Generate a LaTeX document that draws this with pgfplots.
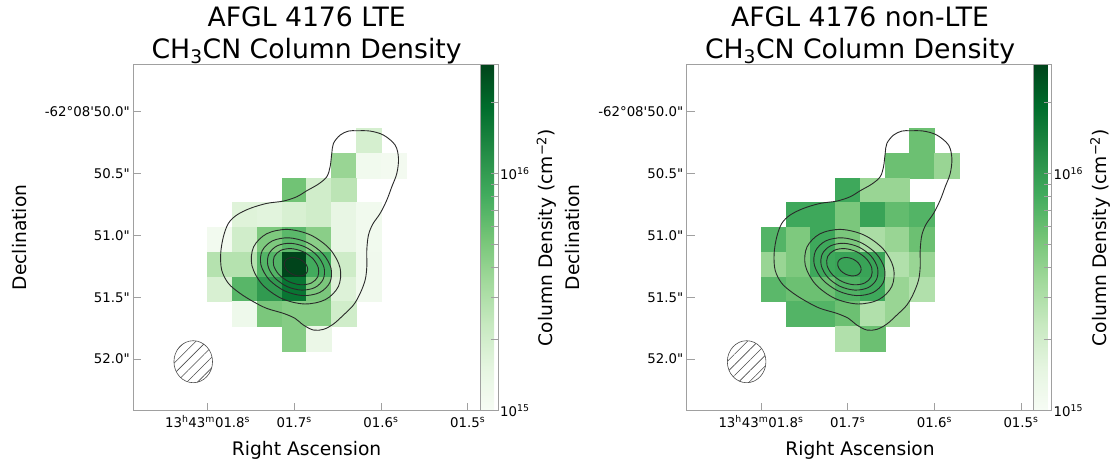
\documentclass[border=0pt]{standalone}
\usepackage{fontspec}
\setmainfont{DejaVu Sans}[Ligatures=TeXOff]
\usepackage{pgfplots}
\pgfplotsset{compat=1.18}
\usepackage{pgfplotstable}
\usetikzlibrary{patterns.meta}

\definecolor{framegray}{HTML}{A0A0A0}
\definecolor{contourgray}{HTML}{2A2A2A}

% matplotlib "Greens"
\pgfplotsset{colormap={mplgreens}{rgb255=(247,252,245) rgb255=(229,245,224)
  rgb255=(199,233,192) rgb255=(161,217,155) rgb255=(116,196,118)
  rgb255=(65,171,93) rgb255=(35,139,69) rgb255=(0,109,44) rgb255=(0,68,27)}}

% pixel grid: x = column centre, y = row centre (cell units, 0.2" per cell), log10 N(CH3CN)
\pgfplotstableread{
px py logN
9.5 10.915 15.28
8.5 9.915 15.58
9.5 9.915 15.06
10.5 9.915 15.04
6.5 8.915 15.74
7.5 8.915 15.31
8.5 8.915 15.42
4.5 7.915 15.22
5.5 7.915 15.20
6.5 7.915 15.26
7.5 7.915 15.31
8.5 7.915 15.15
9.5 7.915 15.06
3.5 6.915 15.05
4.5 6.915 15.31
5.5 6.915 15.69
6.5 6.915 15.82
7.5 6.915 15.64
8.5 6.915 15.15
9.5 6.915 15.06
3.5 5.915 15.45
4.5 5.915 15.45
5.5 5.915 15.85
6.5 5.915 16.46
7.5 5.915 15.91
8.5 5.915 15.32
9.5 5.915 15.07
3.5 4.915 15.26
4.5 4.915 15.83
5.5 4.915 16.01
6.5 4.915 16.23
7.5 4.915 15.70
8.5 4.915 15.23
9.5 4.915 15.07
4.5 3.915 15.09
5.5 3.915 15.70
6.5 3.915 15.66
7.5 3.915 15.66
8.5 3.915 15.31
6.5 2.915 15.66
7.5 2.915 15.12
}\ltecells

\pgfplotstableread{
px py logN
9.5 10.915 15.76
8.5 9.915 15.76
9.5 9.915 15.76
10.5 9.915 15.58
6.5 8.915 15.93
7.5 8.915 15.58
8.5 8.915 15.58
4.5 7.915 15.93
5.5 7.915 15.93
6.5 7.915 15.70
7.5 7.915 15.96
8.5 7.915 15.79
9.5 7.915 15.85
3.5 6.915 15.85
4.5 6.915 15.69
5.5 6.915 15.93
6.5 6.915 15.70
7.5 6.915 15.50
8.5 6.915 15.58
9.5 6.915 15.76
3.5 5.915 15.58
4.5 5.915 15.69
5.5 5.915 15.93
6.5 5.915 15.96
7.5 5.915 15.96
8.5 5.915 15.47
9.5 5.915 15.58
3.5 4.915 15.82
4.5 4.915 15.76
5.5 4.915 15.76
6.5 4.915 15.86
7.5 4.915 15.93
8.5 4.915 15.58
9.5 4.915 15.47
4.5 3.915 15.85
5.5 3.915 15.85
6.5 3.915 15.76
7.5 3.915 15.47
8.5 3.915 15.58
6.5 2.915 15.47
7.5 2.915 15.76
}\nltecells

% continuum contours
\newcommand{\continuumcontours}{%
\addplot[cont] coordinates {(9.025,11.314) (9.564,11.301) (10.102,11.139) (10.574,10.735)
 (10.708,10.196) (10.641,9.590) (10.439,9.051) (10.237,8.513) (9.968,7.974) (9.671,7.543)
 (9.496,7.098) (9.429,6.493) (9.429,5.819) (9.362,5.280) (9.160,4.742) (8.890,4.270)
 (8.486,3.866) (8.082,3.503) (7.678,3.287) (7.274,3.260) (6.870,3.462) (6.533,3.731)
 (6.062,3.934) (5.389,4.135) (4.850,4.405) (4.311,4.742) (3.840,5.146) (3.570,5.684)
 (3.530,6.358) (3.638,7.031) (3.840,7.570) (4.176,7.907) (4.715,8.176) (5.389,8.378)
 (6.062,8.472) (6.601,8.647) (7.005,8.890) (7.476,9.159) (7.813,9.455) (7.948,9.860)
 (8.015,10.398) (8.082,10.802) (8.352,11.139) (8.688,11.301)};
\addplot[cont] coordinates {(8.282,5.021) (8.351,5.767) (7.942,6.526) (7.166,7.097)
 (6.230,7.326) (5.385,7.151) (4.858,6.619) (4.789,5.873) (5.198,5.114) (5.974,4.543)
 (6.910,4.314) (7.755,4.489)};
\addplot[cont] coordinates {(7.938,5.181) (7.984,5.756) (7.650,6.347) (7.027,6.798)
 (6.282,6.987) (5.614,6.862) (5.202,6.459) (5.156,5.884) (5.490,5.293) (6.113,4.842)
 (6.858,4.653) (7.526,4.778)};
\addplot[cont] coordinates {(7.666,5.308) (7.705,5.776) (7.440,6.254) (6.942,6.617)
 (6.344,6.766) (5.807,6.662) (5.474,6.332) (5.435,5.864) (5.700,5.386) (6.198,5.023)
 (6.796,4.874) (7.333,4.978)};
\addplot[cont] coordinates {(7.449,5.410) (7.473,5.769) (7.255,6.141) (6.853,6.427)
 (6.375,6.551) (5.951,6.479) (5.691,6.230) (5.667,5.871) (5.885,5.499) (6.287,5.213)
 (6.765,5.089) (7.189,5.161)};
\addplot[cont] coordinates {(7.023,5.609) (7.034,5.791) (6.921,5.981) (6.714,6.128)
 (6.468,6.193) (6.250,6.157) (6.117,6.032) (6.106,5.849) (6.219,5.659) (6.426,5.512)
 (6.672,5.447) (6.890,5.483)};
% synthesized beam
\draw[draw=black!70, line width=0.6pt,
  pattern={Lines[angle=45,distance=7.5pt,line width=0.6pt]}, pattern color=black!70]
  (axis cs:2.42,1.98) ellipse [x radius=19.3pt, y radius=21pt];
}

\pgfplotsset{
  cont/.style={draw=contourgray, line width=0.9pt, mark=none, smooth cycle, tension=0.55},
  pixcells/.style={scatter, only marks, mark=square*, mark size=12.375pt,
    scatter/use mapped color={draw=mapped color, fill=mapped color},
    point meta=\thisrow{logN}},
  mapaxis/.style={
    clip marker paths=true,
    scale only axis, width=346.7pt, height=346.4pt,
    anchor=south west,
    xmin=0, xmax=14, ymin=0, ymax=14,
    axis line style={framegray, line width=0.8pt},
    xtick={3,6.5,10,13.5},
    xticklabels={13\textsuperscript{h}43\textsuperscript{m}01.8\textsuperscript{s},
      01.7\textsuperscript{s}, 01.6\textsuperscript{s}, 01.5\textsuperscript{s}},
    ytick={2.085,4.585,7.085,9.585,12.085},
    yticklabels={52.0", 51.5", 51.0", 50.5", -62°08'50.0"},
    tick align=inside, xtick pos=bottom, ytick pos=left,
    major tick length=8pt,
    tick style={framegray, line width=0.8pt},
    xticklabel style={font=\fontsize{13.33}{16}\selectfont, anchor=base,
      inner sep=0pt, yshift=-16.8pt},
    yticklabel style={font=\fontsize{13.33}{16}\selectfont, anchor=east,
      inner sep=0pt, xshift=-3.3pt},
    xlabel={Right Ascension}, ylabel={Declination},
    xlabel style={font=\fontsize{18.67}{22}\selectfont,
      at={(axis description cs:0.5,-0.1279)}, anchor=base, inner sep=0pt},
    ylabel style={font=\fontsize{18.67}{22}\selectfont,
      at={(axis description cs:-0.328,0.5)}, anchor=center, inner sep=0pt},
    title style={font=\fontsize{26.67}{31.6}\selectfont, align=center,
      at={(axis description cs:0.5,1)}, anchor=north, inner sep=0pt, yshift=51.8pt},
    colormap name=mplgreens,
    point meta min=15, point meta max=16.46,
    colorbar,
    colorbar shift/.style={xshift=0pt},
    colorbar style={
      at={(parent axis.north east)}, anchor=north west, xshift=0pt,
      width=18pt, scale only axis,
      ytick={15,16},
      yticklabels={10\textsuperscript{15},10\textsuperscript{16}},
      minor ytick={15.301,15.477,15.602,15.699,15.778,15.845,15.903,15.954,16.301},
      ytick pos=right, yticklabel pos=right,
      tick align=inside,
      major tick length=7pt, minor tick length=7pt,
      axis line style={framegray, line width=0.8pt},
      tick style={framegray, line width=0.8pt},
      yticklabel style={font=\fontsize{13.33}{16}\selectfont, anchor=west,
        inner sep=0pt, xshift=2pt},
      ylabel={Column Density (cm\textsuperscript{\textminus 2})},
      ylabel style={font=\fontsize{18.67}{22}\selectfont,
        at={(axis description cs:3.7,0.5)}, anchor=center, inner sep=0pt},
    },
  },
}

\begin{document}
\begin{tikzpicture}
\path[use as bounding box] (0,0) rectangle (1111pt,463pt);

\begin{axis}[mapaxis, at={(133.3pt,52.3pt)},
  title={AFGL 4176 LTE\\CH\textsubscript{3}CN Column Density}]
\addplot[pixcells] table[x=px, y=py] {\ltecells};
\continuumcontours
\end{axis}

\begin{axis}[mapaxis, at={(686.7pt,52.3pt)},
  title={AFGL 4176 non-LTE\\CH\textsubscript{3}CN Column Density}]
\addplot[pixcells] table[x=px, y=py] {\nltecells};
\continuumcontours
\end{axis}
\end{tikzpicture}
\end{document}
